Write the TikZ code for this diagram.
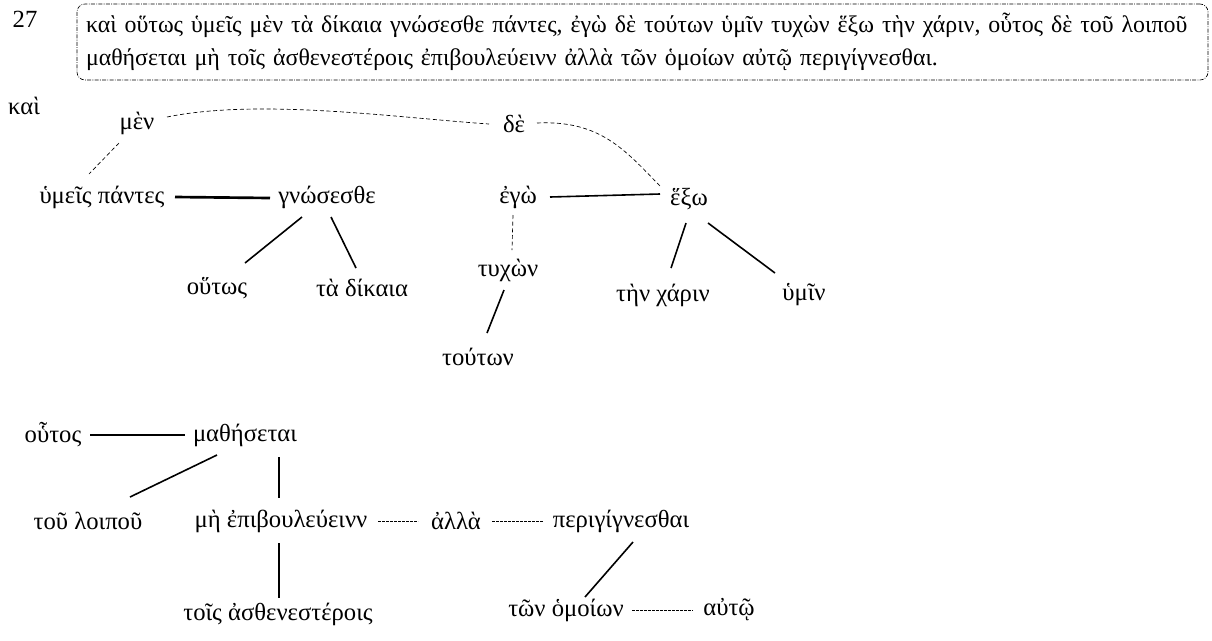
\documentclass[tikz,border=0pt]{standalone}
\usepackage{fontspec}
\setmainfont{Liberation Serif}
\begin{document}
\begin{tikzpicture}[x=0.75pt,y=-0.75pt,
  w/.style={inner sep=2pt, font=\fontsize{18.5}{22}\selectfont},
  sol/.style={line width=1.2pt},
  thk/.style={line width=2pt},
  dsh/.style={line width=0.5pt, dash pattern=on 3pt off 2pt},
  fdsh/.style={line width=0.5pt, dash pattern=on 2pt off 1pt},
  every node/.style={w}]
\useasboundingbox (0,0) rectangle (1212,640);
\node (n27) at (25,19) {27};
\node[draw, rounded corners=6pt, line width=0.5pt, dash pattern=on 3pt off 1pt on 0.6pt off 1pt,
      minimum width=1131*0.75pt, minimum height=76*0.75pt, inner xsep=6.75pt, text width=1131*0.75pt-13.5pt, align=left,
      font=\fontsize{17.9}{24.8}\selectfont] (box) at (642.5,42)
  {καὶ οὕτως ὑμεῖς μὲν τὰ δίκαια γνώσεσθε πάντες, ἐγὼ δὲ τούτων ὑμῖν τυχὼν ἕξω τὴν χάριν, οὗτος δὲ τοῦ λοιποῦ\\
   μαθήσεται μὴ τοῖς ἀσθενεστέροις ἐπιβουλεύεινν ἀλλὰ τῶν ὁμοίων αὐτῷ περιγίγνεσθαι.};
\node (kai) at (24,106) {καὶ};
\node (men) at (137,123) {μὲν};
\node (de) at (514,124) {δὲ};
\node (ymeis) at (102,197) {ὑμεῖς πάντες};
\node (gnos) at (327,197) {γνώσεσθε};
\node (outos) at (217,288) {οὕτως};
\node (dikaia) at (362,288) {τὰ δίκαια};
\node (ego) at (518,197) {ἐγὼ};
\node (exo) at (689,199) {ἕξω};
\node (tychon) at (508,270) {τυχὼν};
\node (touton) at (478,357) {τούτων};
\node (charin) at (663,295) {τὴν χάριν};
\node (ymin) at (804,295) {ὑμῖν};
\node (houtos) at (53,435) {οὗτος};
\node (math) at (245,435) {μαθήσεται};
\node (loipou) at (88,521) {τοῦ λοιποῦ};
\node (epib) at (281,521) {μὴ ἐπιβουλεύεινν};
\node (alla) at (456,521) {ἀλλὰ};
\node (peri) at (621,521) {περιγίγνεσθαι};
\node (astheu) at (278,614) {τοῖς ἀσθενεστέροις};
\node (omoion) at (566,610) {τῶν ὁμοίων};
\node (auto) at (729,610) {αὐτῷ};
% connectors
\draw[dsh] ([shift={(-18,20)}]men.center) -- ([shift={(-13,-23)}]ymeis.center);
\draw[dsh] ([shift={(30,-6)}]men.center) .. controls (260,98) and (400,118) .. ([shift={(-25,0)}]de.center);
\draw[dsh] ([shift={(23,-1)}]de.center) .. controls (600,120) and (625,150) .. ([shift={(-29,-13)}]exo.center);
\draw[thk] ([shift={(73,0)}]ymeis.center) -- ([shift={(-57,1)}]gnos.center);
\draw[sol] ([shift={(-25,20)}]gnos.center) -- ([shift={(28,-25)}]outos.center);
\draw[sol] ([shift={(4,20)}]gnos.center) -- ([shift={(-6,-20)}]dikaia.center);
\draw[sol] ([shift={(32,0)}]ego.center) -- ([shift={(-29,-5)}]exo.center);
\draw[dsh] ([shift={(-5,18)}]ego.center) -- ([shift={(4,-20)}]tychon.center);
\draw[sol] ([shift={(-4,20)}]tychon.center) -- ([shift={(9,-24)}]touton.center);
\draw[sol] ([shift={(-3,24)}]exo.center) -- ([shift={(8,-27)}]charin.center);
\draw[sol] ([shift={(19,24)}]exo.center) -- ([shift={(-29,-22)}]ymin.center);
\draw[thk] ([shift={(37,0)}]houtos.center) -- ([shift={(-60,0)}]math.center);
\draw[sol] ([shift={(-28,20)}]math.center) -- ([shift={(42,-24)}]loipou.center);
\draw[sol] ([shift={(34,22)}]math.center) -- ([shift={(-2,-23)}]epib.center);
\draw[fdsh] ([shift={(97,0)}]epib.center) -- ([shift={(-38,0)}]alla.center);
\draw[fdsh] ([shift={(36,0)}]alla.center) -- ([shift={(-78,0)}]peri.center);
\draw[sol] ([shift={(-2,22)}]epib.center) -- ([shift={(1,-16)}]astheu.center);
\draw[sol] ([shift={(12,21)}]peri.center) -- ([shift={(19,-13)}]omoion.center);
\draw[fdsh] ([shift={(66,0)}]omoion.center) -- ([shift={(-36,0)}]auto.center);
\end{tikzpicture}
\end{document}
